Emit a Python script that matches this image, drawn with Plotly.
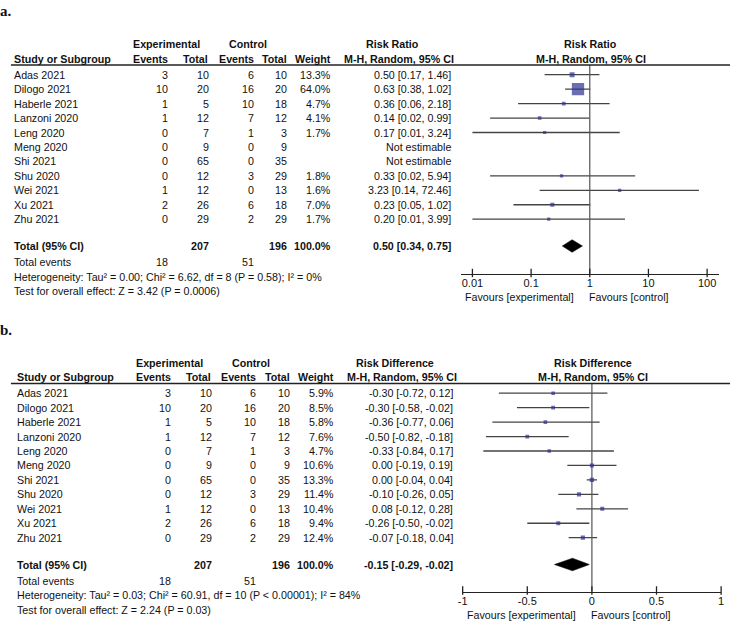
import plotly.graph_objects as go

W, H = 736, 622

# ---------------- data ----------------
studies = ["Adas 2021", "Dilogo 2021", "Haberle 2021", "Lanzoni 2020", "Leng 2020",
           "Meng 2020", "Shi 2021", "Shu 2020", "Wei 2021", "Xu 2021", "Zhu 2021"]
exp_events = [3, 10, 1, 1, 0, 0, 0, 0, 1, 2, 0]
exp_total = [10, 20, 5, 12, 7, 9, 65, 12, 12, 26, 29]
ctl_events = [6, 16, 10, 7, 1, 0, 0, 3, 0, 6, 2]
ctl_total = [10, 20, 18, 12, 3, 9, 35, 29, 13, 18, 29]

rr_weight = [13.3, 64.0, 4.7, 4.1, 1.7, None, None, 1.8, 1.6, 7.0, 1.7]
rr_est = [0.50, 0.63, 0.36, 0.14, 0.17, None, None, 0.33, 3.23, 0.23, 0.20]
rr_lo = [0.17, 0.38, 0.06, 0.02, 0.01, None, None, 0.02, 0.14, 0.05, 0.01]
rr_hi = [1.46, 1.02, 2.18, 0.99, 3.24, None, None, 5.94, 72.46, 1.02, 3.99]
rr_total = [0.50, 0.34, 0.75]
rr_het = "Heterogeneity: Tau² = 0.00; Chi² = 6.62, df = 8 (P = 0.58); I² = 0%"
rr_test = "Test for overall effect: Z = 3.42 (P = 0.0006)"
rr_ticks = [0.01, 0.1, 1, 10, 100]
rr_ticklabels = ["0.01", "0.1", "1", "10", "100"]

rd_weight = [5.9, 8.5, 5.8, 7.6, 4.7, 10.6, 13.3, 11.4, 10.4, 9.4, 12.4]
rd_est = [-0.30, -0.30, -0.36, -0.50, -0.33, 0.00, 0.00, -0.10, 0.08, -0.26, -0.07]
rd_lo = [-0.72, -0.58, -0.77, -0.82, -0.84, -0.19, -0.04, -0.26, -0.12, -0.50, -0.18]
rd_hi = [0.12, -0.02, 0.06, -0.18, 0.17, 0.19, 0.04, 0.05, 0.28, -0.02, 0.04]
rd_total = [-0.15, -0.29, -0.02]
rd_het = "Heterogeneity: Tau² = 0.03; Chi² = 60.91, df = 10 (P &lt; 0.00001); I² = 84%"
rd_test = "Test for overall effect: Z = 2.24 (P = 0.03)"
rd_ticks = [-1, -0.5, 0, 0.5, 1]
rd_ticklabels = ["-1", "-0.5", "0", "0.5", "1"]

# ---------------- styling ----------------
FONT = "Liberation Sans, Arial, sans-serif"
FS = 10.7
TXT = "#111111"
BOX = "#2e3192"
CI_COL = "#444444"
AX_COL = "#222222"
LEFT_FIX = -6.5   # compensates the left padding of left-anchored annotations

fig = go.Figure()
annotations = []
shapes = []


def yp(py):
    return 1 - py / H


def ann(text, px, py, anchor="left", bold=False, size=FS, family=FONT):
    if bold:
        text = "<b>" + text + "</b>"
    if anchor == "left":
        px += LEFT_FIX
    annotations.append(dict(text=text, x=px / W, y=yp(py), xref="paper", yref="paper",
                            xanchor=anchor, yanchor="middle", showarrow=False, borderpad=0,
                            font=dict(family=family, size=size, color=TXT)))


def panel(label, dy, dx, measure, weights, est, lo, hi, total, het, test,
          xa, ya, ref, box_scale, axis_y, ax_left, ax_right, ticks):
    ann(label, 0, 11 + dy, "left", bold=True, size=15,
        family="Liberation Serif, Times New Roman, serif")
    hy1, hy2 = 44 + dy, 58.5 + dy
    ann("Experimental", 163.5 + dx, hy1, "center", True)
    ann("Control", 246 + dx, hy1, "center", True)
    ann(measure, 391.5 + dx, hy1, "center", True)
    ann("Study or Subgroup", 15 + dx, hy2, "left", True)
    ann("Events", 165.7 + dx, hy2, "right", True)
    ann("Total", 206.5 + dx, hy2, "right", True)
    ann("Events", 252.3 + dx, hy2, "right", True)
    ann("Total", 286 + dx, hy2, "right", True)
    ann("Weight", 331 + dx, hy2, "right", True)
    ann("M-H, Random, 95% CI", 455 + dx, hy2, "right", True)
    cx = (ax_left + ax_right) / 2
    ann(measure, cx + 1, hy1, "center", True)
    ann("M-H, Random, 95% CI", cx + 1, hy2, "center", True)
    line_y = 65 + dy
    shapes.append(dict(type="line", xref="paper", yref="paper", x0=6 / W, x1=733 / W,
                       y0=yp(line_y), y1=yp(line_y), line=dict(color=AX_COL, width=1.3)))

    row_y = [74.7 + dy + 14.45 * i for i in range(len(studies))]
    for i, s in enumerate(studies):
        y = row_y[i]
        ann(s, 15 + dx, y, "left")
        ann(str(exp_events[i]), 165.7 + dx, y, "right")
        ann(str(exp_total[i]), 207.3 + dx, y, "right")
        ann(str(ctl_events[i]), 252.3 + dx, y, "right")
        ann(str(ctl_total[i]), 286 + dx, y, "right")
        if weights[i] is not None:
            ann(f"{weights[i]:.1f}%", 331 + dx, y, "right")
            ann(f"{est[i]:.2f} [{lo[i]:.2f}, {hi[i]:.2f}]", 451.5 + dx, y, "right")
        else:
            ann("Not estimable", 451.5 + dx, y, "right")

    ty = 246 + dy
    ann("Total (95% CI)", 15 + dx, ty, "left", True)
    ann(str(sum(exp_total)), 207.3 + dx, ty, "right", True)
    ann(str(sum(ctl_total)), 286 + dx, ty, "right", True)
    ann("100.0%", 331 + dx, ty, "right", True)
    ann(f"{total[0]:.2f} [{total[1]:.2f}, {total[2]:.2f}]", 451.5 + dx, ty, "right", True)
    ann("Total events", 15 + dx, 262.3 + dy, "left")
    ann(str(sum(exp_events)), 165.7 + dx, 262.3 + dy, "right")
    ann(str(sum(ctl_events)), 252.3 + dx, 262.3 + dy, "right")
    ann(het, 15 + dx, 276.7 + dy, "left")
    ann(test, 15 + dx, 291 + dy, "left")

    # CI lines
    lx, ly = [], []
    for i in range(len(studies)):
        if est[i] is None:
            continue
        lx += [lo[i], hi[i], None]
        ly += [row_y[i], row_y[i], None]
    fig.add_trace(go.Scatter(x=lx, y=ly, mode="lines", xaxis=xa, yaxis=ya,
                             line=dict(color=CI_COL, width=1.3), hoverinfo="skip"))
    # reference line
    fig.add_trace(go.Scatter(x=[ref, ref], y=[line_y, axis_y], mode="lines", xaxis=xa, yaxis=ya,
                             line=dict(color="#555", width=1.2), hoverinfo="skip"))
    # boxes
    bx, by, bs = [], [], []
    for i in range(len(studies)):
        if est[i] is None:
            continue
        bx.append(est[i]); by.append(row_y[i]); bs.append(3.0 + box_scale * weights[i])
    fig.add_trace(go.Scatter(x=bx, y=by, mode="markers", xaxis=xa, yaxis=ya,
                             marker=dict(symbol="square", size=bs, color=BOX, line=dict(width=0))))
    # diamond
    fig.add_trace(go.Scatter(x=[total[1], total[0], total[2], total[0], total[1]],
                             y=[ty, ty - 6.3, ty, ty + 6.3, ty], mode="lines", fill="toself",
                             fillcolor="#000", line=dict(color="#000", width=0.5),
                             xaxis=xa, yaxis=ya, hoverinfo="skip"))
    # crossing tick marks on the axis
    fig.add_trace(go.Scatter(x=ticks, y=[axis_y - 1] * len(ticks), mode="markers",
                             xaxis=xa, yaxis=ya, cliponaxis=False, hoverinfo="skip",
                             marker=dict(symbol="line-ns", size=6,
                                         line=dict(color=AX_COL, width=1.3))))
    fav_y = axis_y + 23.5
    ann("Favours [experimental]", cx - 15, fav_y, "right")
    ann("Favours [control]", cx + 5, fav_y, "left")


a_axis_y, a_left, a_right = 274.0, 460.7, 721.7
panel("a.", 0, 0, "Risk Ratio", rr_weight, rr_est, rr_lo, rr_hi, rr_total, rr_het, rr_test,
      "x", "y", 1, 0.145, a_axis_y, a_left, a_right, rr_ticks)
b_axis_y, b_left, b_right = 591.5, 462.7, 724.0
panel("b.", 318.5, 2.7, "Risk Difference", rd_weight, rd_est, rd_lo, rd_hi, rd_total, rd_het, rd_test,
      "x2", "y2", 0, 0.1, b_axis_y, b_left, b_right, rd_ticks)

axis_common = dict(showline=True, linecolor=AX_COL, linewidth=1.3, ticks="", showgrid=False,
                   zeroline=False, ticklabelstandoff=-1,
                   tickfont=dict(family=FONT, size=11, color=TXT))

fig.update_layout(
    width=W, height=H, margin=dict(l=0, r=0, t=0, b=0),
    paper_bgcolor="white", plot_bgcolor="white", showlegend=False,
    xaxis=dict(domain=[a_left / W, a_right / W], type="log", range=[-2.2, 2.2],
               tickvals=rr_ticks, ticktext=rr_ticklabels, anchor="y", **axis_common),
    yaxis=dict(domain=[yp(a_axis_y), yp(65)], range=[a_axis_y, 65], visible=False, anchor="x"),
    xaxis2=dict(domain=[b_left / W, b_right / W], range=[-1, 1],
                tickvals=rd_ticks, ticktext=rd_ticklabels, anchor="y2", **axis_common),
    yaxis2=dict(domain=[yp(b_axis_y), yp(65 + 318.5)], range=[b_axis_y, 65 + 318.5],
                visible=False, anchor="x2"),
    annotations=annotations, shapes=shapes,
)

fig.write_html("out.html", config={"displayModeBar": False},
               post_script="document.body.style.margin='0px';")
